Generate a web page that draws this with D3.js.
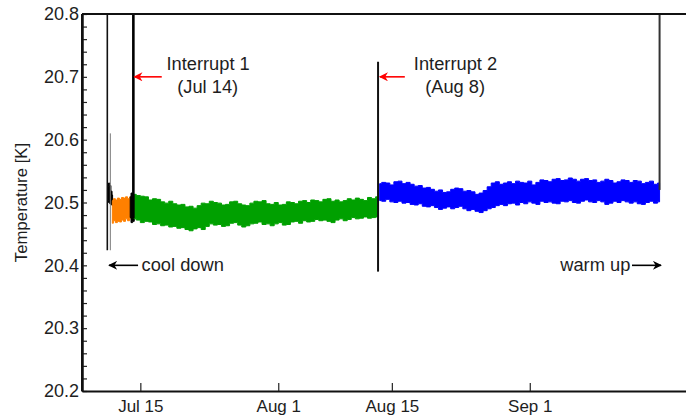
<!DOCTYPE html>
<html><head><meta charset="utf-8">
<script src="https://cdn.jsdelivr.net/npm/d3@7"></script>
<style>
html,body{margin:0;padding:0;background:#fff;}
svg{display:block;font-family:"Liberation Sans",Arial,sans-serif;}
</style></head>
<body><svg id="c" width="686" height="416"></svg>
<script>
// ---- data (days relative to Jul 15) ----
const yTicks = [20.2, 20.3, 20.4, 20.5, 20.6, 20.7, 20.8];
const yMinorTicks = [20.22,20.24,20.26,20.28,20.32,20.34,20.36,20.38,20.42,20.44,20.46,20.48,20.52,20.54,20.56,20.58,20.62,20.64,20.66,20.68,20.72,20.74,20.76,20.78];
const xTickLabels = ["Jul 15", "Aug 1", "Aug 15", "Sep 1"];
const xTickDays = [0, 17, 31, 48];
const xDomainDays = [-7.19, 67.75];

// cool-down black segment
const black1Days = [-4.0, -3.85, -3.7, -3.55, -3.42];
const black1Hi = [20.526, 20.531, 20.527, 20.518, 20.512];
const black1Lo = [20.503, 20.500, 20.498, 20.497, 20.495];

// orange segment (before interrupt 1)
const orangeStart = -3.45, orangeStep = 0.25;
const orangeHi = [20.503, 20.506, 20.504, 20.507, 20.505, 20.508, 20.507, 20.509, 20.506, 20.509];
const orangeLo = [20.467, 20.471, 20.468, 20.470, 20.469, 20.472, 20.470, 20.474, 20.471, 20.475];

// black segment around interrupt 1
const black2Days = [-1.25, -1.05, -0.85, -0.65];
const black2Hi = [20.509, 20.515, 20.512, 20.510];
const black2Lo = [20.476, 20.468, 20.470, 20.474];

// green segment (interrupt 1 -> interrupt 2)
const greenStart = -0.75, greenStep = 0.5;
const greenHi = [20.513,20.511,20.510,20.509,20.504,20.506,20.505,20.501,20.499,20.502,
  20.498,20.496,20.497,20.493,20.494,20.491,20.495,20.499,20.498,20.502,
  20.500,20.499,20.496,20.497,20.501,20.502,20.498,20.496,20.495,20.499,
  20.502,20.501,20.503,20.498,20.497,20.500,20.496,20.497,20.501,20.500,
  20.498,20.502,20.503,20.500,20.504,20.503,20.501,20.505,20.506,20.502,
  20.504,20.501,20.503,20.506,20.504,20.507,20.505,20.503,20.508,20.506,20.509];
const greenLo = [20.474,20.472,20.468,20.470,20.469,20.465,20.466,20.463,20.464,20.461,
  20.462,20.459,20.460,20.457,20.455,20.458,20.460,20.457,20.462,20.466,
  20.464,20.465,20.462,20.463,20.467,20.468,20.464,20.461,20.463,20.466,
  20.467,20.469,20.465,20.466,20.463,20.466,20.468,20.464,20.465,20.469,
  20.470,20.467,20.471,20.469,20.470,20.473,20.471,20.472,20.470,20.468,
  20.472,20.474,20.471,20.473,20.476,20.474,20.475,20.477,20.475,20.476,20.477];

// blue segment (interrupt 2 -> warm up)
const blueStart = 29.5, blueStep = 0.5;
const blueHi = [20.530,20.532,20.531,20.528,20.533,20.534,20.530,20.532,20.529,20.526,
  20.527,20.523,20.524,20.521,20.518,20.520,20.516,20.517,20.521,20.523,
  20.522,20.518,20.519,20.517,20.513,20.515,20.519,20.525,20.531,20.533,
  20.529,20.531,20.533,20.530,20.534,20.532,20.531,20.534,20.528,20.532,
  20.536,20.535,20.533,20.537,20.538,20.535,20.536,20.539,20.537,20.534,
  20.537,20.538,20.535,20.536,20.532,20.534,20.537,20.535,20.531,20.533,
  20.536,20.535,20.532,20.535,20.534,20.530,20.532,20.534,20.529,20.531];
const blueLo = [20.503,20.502,20.505,20.501,20.500,20.502,20.499,20.500,20.497,20.496,
  20.498,20.494,20.493,20.495,20.492,20.489,20.491,20.493,20.490,20.492,
  20.494,20.490,20.487,20.489,20.486,20.484,20.487,20.490,20.492,20.495,
  20.497,20.495,20.498,20.499,20.496,20.500,20.498,20.501,20.499,20.497,
  20.502,20.500,20.501,20.499,20.498,20.502,20.501,20.503,20.500,20.499,
  20.502,20.504,20.501,20.500,20.503,20.501,20.497,20.499,20.502,20.500,
  20.503,20.501,20.499,20.501,20.498,20.497,20.500,20.502,20.499,20.501];

// vertical transients
const spikeDays = [-4.07, -3.70, -0.86, 29.3, 64.0];
const spikeTop = [20.82, 20.61, 20.82, 20.724, 20.82];
const spikeBottom = [20.424, 20.424, 20.475, 20.39, 20.52];
const spikeColors = ["#111", "#777", "#000", "#111", "#333"];
const spikeWidths = [1.6, 1.0, 2.6, 2.0, 2.0];

// annotations
const arrowTail = [2.64, 32.6, -0.28, 60.6];
const arrowTip = [-0.86, 29.4, -3.98, 64.3];
const arrowValue = [20.7, 20.7, 20.4, 20.4];
const arrowColors = ["#ff0000", "#ff0000", "#000", "#000"];
const labelTexts = ["Interrupt 1", "(Jul 14)", "Interrupt 2", "(Aug 8)", "cool down", "warm up"];
const labelDays = [8.35, 8.3, 38.85, 38.8, 0.15, 60.4];
const labelValues = [20.7, 20.7, 20.7, 20.7, 20.4, 20.4];
const labelDy = [-7, 16, -7, 16, 6, 6];
const labelAnchor = ["middle", "middle", "middle", "middle", "start", "end"];

const yLabel = "Temperature [K]";

// ---- drawing ----
const base = Date.UTC(2010, 6, 15);
const toDate = d => new Date(base + d * 864e5);
const L = 82, R = 690, T = 14, B = 391;
const x = d3.scaleUtc().domain(xDomainDays.map(toDate)).range([L, R]);
const y = d3.scaleLinear().domain([20.2, 20.8]).range([B, T]);
const svg = d3.select("#c");
const ink = "#1e1e1e";

svg.append("defs").append("clipPath").attr("id", "clip")
  .append("rect").attr("x", L).attr("y", T).attr("width", R - L).attr("height", B - T);
const plot = svg.append("g").attr("clip-path", "url(#clip)");

const area = d3.area().curve(d3.curveStep)
  .x(d => x(toDate(d.day))).y0(d => y(d.lo)).y1(d => y(d.hi));
function stepSeries(start, step, hi, lo) {
  return hi.map((h, i) => ({ day: start + i * step, hi: h, lo: lo[i] }));
}
function daySeries(days, hi, lo) {
  return days.map((d, i) => ({ day: d, hi: hi[i], lo: lo[i] }));
}
const bands = [
  { data: daySeries(black1Days, black1Hi, black1Lo), color: "#000" },
  { data: stepSeries(orangeStart, orangeStep, orangeHi, orangeLo), color: "#ff8000" },
  { data: daySeries(black2Days, black2Hi, black2Lo), color: "#000" },
  { data: stepSeries(greenStart, greenStep, greenHi, greenLo), color: "#00a000" },
  { data: stepSeries(blueStart, blueStep, blueHi, blueLo), color: "#0000ff" }
];
plot.selectAll("path.band").data(bands).join("path").attr("class", "band")
  .attr("d", d => area(d.data)).attr("fill", d => d.color)
  .attr("stroke", d => d.color).attr("stroke-width", 1).attr("stroke-linejoin", "round");

plot.selectAll("line.spike").data(spikeDays).join("line").attr("class", "spike")
  .attr("x1", d => x(toDate(d))).attr("x2", d => x(toDate(d)))
  .attr("y1", (d, i) => y(spikeTop[i])).attr("y2", (d, i) => y(spikeBottom[i]))
  .attr("stroke", (d, i) => spikeColors[i]).attr("stroke-width", (d, i) => spikeWidths[i]);

// axes
const gLeft = svg.append("g").attr("transform", `translate(${L},0)`);
gLeft.call(d3.axisLeft(y).tickValues(yMinorTicks).tickFormat("").tickSizeInner(-5).tickSizeOuter(0));
const gLeftMaj = svg.append("g").attr("transform", `translate(${L},0)`);
gLeftMaj.call(d3.axisLeft(y).tickValues(yTicks).tickFormat(d3.format(".1f")).tickSizeInner(-5).tickSizeOuter(0).tickPadding(3));
gLeftMaj.selectAll("text").attr("font-size", 18).attr("fill", ink).attr("font-family", "Liberation Sans, Arial, sans-serif");

const gRight = svg.append("g").attr("transform", `translate(${R},0)`);
gRight.call(d3.axisLeft(y).tickValues(yTicks).tickFormat("").tickSizeInner(7).tickSizeOuter(0));
gRight.call(d3.axisLeft(y).tickValues(yMinorTicks).tickFormat("").tickSizeInner(4).tickSizeOuter(0));

const gBottom = svg.append("g").attr("transform", `translate(0,${B})`);
gBottom.call(d3.axisBottom(x).tickValues(xTickDays.map(toDate))
  .tickFormat((d, i) => xTickLabels[i]).tickSizeInner(-8).tickSizeOuter(0).tickPadding(9));
gBottom.selectAll("text").attr("font-size", 17).attr("fill", ink).attr("font-family", "Liberation Sans, Arial, sans-serif");

svg.selectAll(".domain").attr("stroke", "#111").attr("stroke-width", 2);
svg.selectAll(".tick line").attr("stroke", "#222").attr("stroke-width", 1.2);

svg.append("line").attr("x1", L).attr("x2", R).attr("y1", T).attr("y2", T)
  .attr("stroke", "#111").attr("stroke-width", 2);
svg.append("line").attr("x1", L).attr("x2", L).attr("y1", T).attr("y2", B)
  .attr("stroke", "#111").attr("stroke-width", 2);

// y label
svg.append("text").attr("transform", `translate(27,${(T + B) / 2}) rotate(-90)`)
  .attr("text-anchor", "middle").attr("font-size", 16.8).attr("fill", ink).text(yLabel);

// arrows
const defs = svg.select("defs");
["#ff0000", "#000"].forEach((c, i) => {
  defs.append("marker").attr("id", "ah" + i).attr("viewBox", "0 0 10 10").attr("refX", 9).attr("refY", 5)
    .attr("markerWidth", 11).attr("markerHeight", 9).attr("markerUnits", "userSpaceOnUse").attr("orient", "auto")
    .append("path").attr("d", "M0,0 L10,5 L0,10 L3,5 Z").attr("fill", c);
});
svg.selectAll("line.arrow").data(arrowTail).join("line").attr("class", "arrow")
  .attr("x1", d => x(toDate(d))).attr("x2", (d, i) => x(toDate(arrowTip[i])) + (arrowTip[i] < d ? 1 : -1))
  .attr("y1", (d, i) => y(arrowValue[i])).attr("y2", (d, i) => y(arrowValue[i]))
  .attr("stroke", (d, i) => arrowColors[i]).attr("stroke-width", 1.6)
  .attr("marker-end", (d, i) => arrowColors[i] === "#000" ? "url(#ah1)" : "url(#ah0)");

svg.selectAll("text.ann").data(labelTexts).join("text").attr("class", "ann")
  .attr("x", (d, i) => x(toDate(labelDays[i])))
  .attr("y", (d, i) => y(labelValues[i]) + labelDy[i])
  .attr("text-anchor", (d, i) => labelAnchor[i])
  .attr("font-size", 18.3).attr("fill", ink).text(d => d);
</script></body></html>
